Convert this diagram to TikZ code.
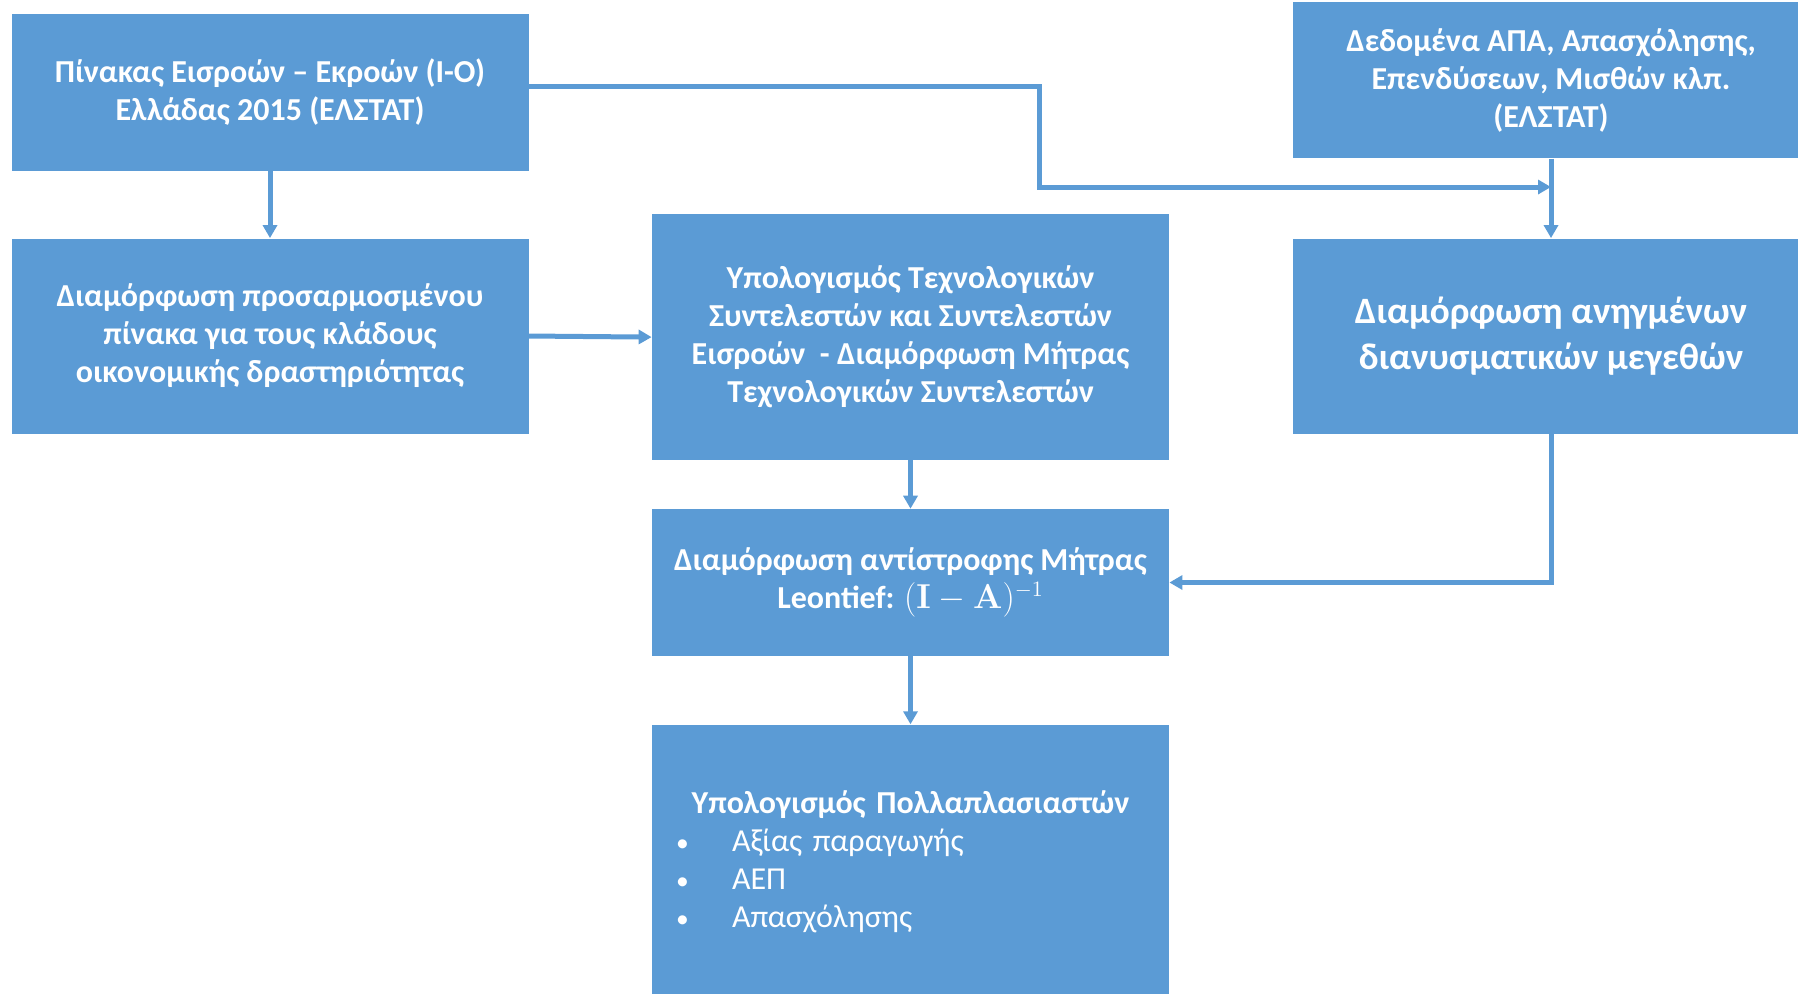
\documentclass[tikz,border=0pt]{standalone}
\usepackage[no-math]{fontspec}
\setmainfont{Carlito}
\usepackage{tikz}
\usetikzlibrary{calc}
\usetikzlibrary{arrows.meta}
\definecolor{boxblue}{HTML}{5B9BD5}
\newcommand{\multitem}[1]{\makebox[258.5pt][l]{\mdseries\hspace{12pt}\makebox[28pt][l]{\scalebox{0.8}{\textbullet}}#1}}

\begin{document}
\begin{tikzpicture}[x=0.5pt,y=-0.5pt]
        \tikzstyle{block} = [rectangle, fill=boxblue, text=white, align=center, inner sep=0pt, minimum width=258.5pt, font=\bfseries\fontsize{16}{19}\selectfont]
        \tikzstyle{link} = [draw=boxblue, line width=2.5pt, -{Triangle[width=7pt,length=6.5pt]}]
        \useasboundingbox (0,0) rectangle (1798,993);

        % left column
        \node[block, minimum height=78.5pt] (tab) at (270,92.4)
                {Πίνακας Εισροών – Εκροών (I-O)\\Ελλάδας 2015 (ΕΛΣΤΑΤ)};
        \node[block, minimum height=97.5pt] (adj) at (270,336)
                {Διαμόρφωση προσαρμοσμένου\\πίνακα για τους κλάδους\\οικονομικής δραστηριότητας};

        % middle column
        \node[block, minimum height=122.7pt] (coef) at (910.5,337.1)
                {Υπολογισμός Τεχνολογικών\\Συντελεστών και Συντελεστών\\Εισροών\ \ - Διαμόρφωση Μήτρας\\Τεχνολογικών Συντελεστών};
        \node[block, minimum height=73.4pt] (leo) at (910.5,582.5)
                {Διαμόρφωση αντίστροφης Μήτρας\\Leontief: $(\mathbf{I}-\mathbf{A})^{-1}$};
        \node[block, minimum height=136.8pt, text width=258.5pt] (mult) at (910.5,861.5)
                {Υπολογισμός Πολλαπλασιαστών\\
                 \multitem{Αξίας παραγωγής}\\
                 \multitem{ΑΕΠ}\\
                 \multitem{Απασχόλησης}};

        % right column
        \node[block, minimum height=78pt] (dat) at (1551,80.3)
                {Δεδομένα ΑΠΑ, Απασχόλησης,\\Επενδύσεων, Μισθών κλπ.\\(ΕΛΣΤΑΤ)};
        \node[block, minimum height=97.5pt, font=\bfseries\fontsize{18.6}{23}\selectfont] (vec) at (1551,336)
                {Διαμόρφωση ανηγμένων\\διανυσματικών μεγεθών};

        % connectors
        \coordinate (bend) at (1039,187);
        \draw[link] (tab) -- (adj);
        \draw[link] ($(tab.east)+(0,-6)$) -| (bend) -- (bend -| dat.south);
        \draw[link] (dat) -- (vec);
        \draw[link] (adj.east) -- (coef.west);
        \draw[link] (coef) -- (leo);
        \draw[link] (leo) -- (mult);
        \draw[link] (vec.south) |- (leo.east);
\end{tikzpicture}
\end{document}
